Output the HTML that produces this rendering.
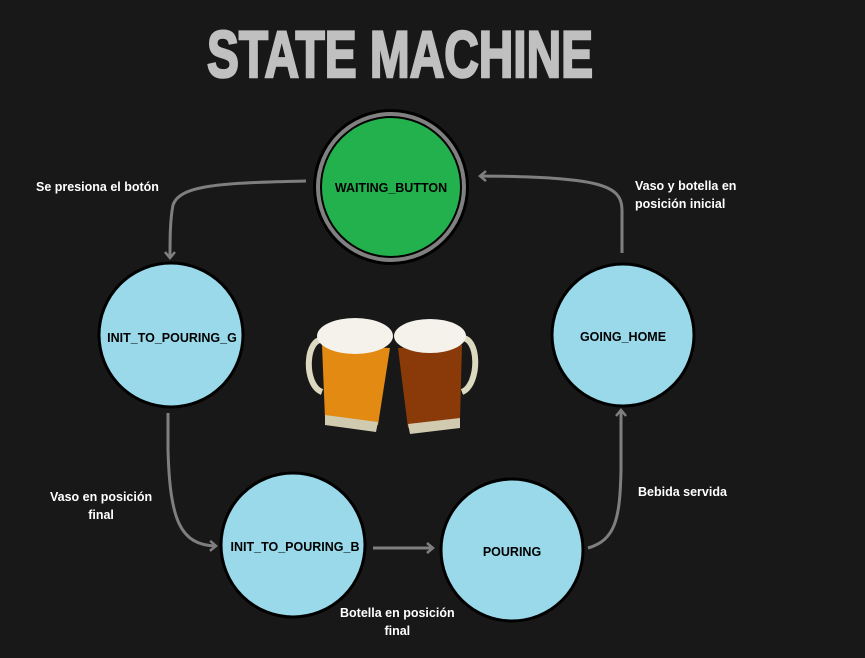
<!DOCTYPE html>
<html><head><meta charset="utf-8"><style>
html,body{margin:0;padding:0;background:#181818;}
body{width:865px;height:658px;overflow:hidden;position:relative;font-family:"Liberation Sans",sans-serif;}
.t{position:absolute;color:#fff;font-weight:bold;font-size:12.5px;line-height:18px;text-align:center;white-space:nowrap}
</style></head><body>
<svg width="865" height="658" style="position:absolute;left:0;top:0">
<defs><marker id="a" markerWidth="14" markerHeight="14" refX="8" refY="7" orient="auto" markerUnits="userSpaceOnUse"><path d="M2,2 L8,7 L2,12" fill="none" stroke="#7f7f7f" stroke-width="2.5"/></marker></defs>
<text x="400" y="77" text-anchor="middle" font-family="Liberation Sans" font-weight="bold" font-size="66" fill="#c0c0c0" stroke="#c0c0c0" stroke-width="2.5" textLength="386" lengthAdjust="spacingAndGlyphs">STATE MACHINE</text>
<g fill="none" stroke="#7f7f7f" stroke-width="3">
<path d="M306,181 C220,183 180,185 173,205 C170,220 170,240 170,258" marker-end="url(#a)"/>
<path d="M622,253 L622,210 C622,185 600,177 480,176" marker-end="url(#a)"/>
<path d="M168,413 L168,450 C170,520 180,545 216,546" marker-end="url(#a)"/>
<path d="M373,548 L433,548" marker-end="url(#a)"/>
<path d="M588,548 C615,540 620,520 621,470 L621,410" marker-end="url(#a)"/>
</g>
<circle cx="391" cy="187" r="78" fill="#000"/>
<circle cx="391" cy="187" r="75" fill="#808080"/>
<circle cx="391" cy="187" r="71" fill="#000"/>
<circle cx="391" cy="187" r="69" fill="#22b14c"/>
<circle cx="171" cy="335" r="72" fill="#99d9ea" stroke="#000" stroke-width="3"/>
<circle cx="623" cy="335" r="71" fill="#99d9ea" stroke="#000" stroke-width="3"/>
<circle cx="293" cy="545" r="72" fill="#99d9ea" stroke="#000" stroke-width="3"/>
<circle cx="512" cy="550" r="71" fill="#99d9ea" stroke="#000" stroke-width="3"/>
<g font-family="Liberation Sans" font-weight="bold" font-size="12.5" fill="#000" text-anchor="middle">
<text x="391" y="192">WAITING_BUTTON</text>
<text x="172" y="342">INIT_TO_POURING_G</text>
<text x="623" y="341">GOING_HOME</text>
<text x="295" y="551">INIT_TO_POURING_B</text>
<text x="512" y="556">POURING</text>
</g>
<g>
<path d="M325,340 C305,335 303,385 322,392" fill="none" stroke="#ddd8c0" stroke-width="6"/>
<path d="M460,338 C480,335 480,385 462,392" fill="none" stroke="#ddd8c0" stroke-width="6"/>
<path d="M322,345 L390,348 L378,425 L325,418 Z" fill="#e28a12"/>
<path d="M398,348 L462,345 L460,420 L408,428 Z" fill="#8a3a08"/>
<ellipse cx="355" cy="336" rx="38" ry="18" fill="#f4f2ea"/>
<ellipse cx="430" cy="336" rx="36" ry="17" fill="#f4f2ea"/>
<path d="M325,415 L378,422 L376,432 L325,425Z" fill="#cfcab0"/>
<path d="M408,424 L460,418 L460,428 L410,434Z" fill="#cfcab0"/>
</g>
</svg>
<div class="t" style="left:36px;top:178px">Se presiona el botón</div>
<div class="t" style="left:635px;top:177px;text-align:left">Vaso y botella en<br>posición inicial</div>
<div class="t" style="left:50px;top:488px">Vaso en posición<br>final</div>
<div class="t" style="left:638px;top:483px">Bebida servida</div>
<div class="t" style="left:340px;top:604px">Botella en posición<br>final</div>
</body></html>
